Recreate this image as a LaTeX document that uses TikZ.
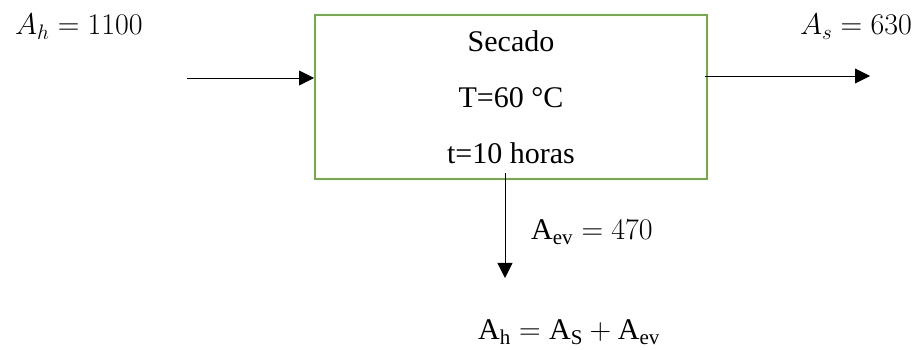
\RequirePackage{fix-cm}
\documentclass[tikz,border=0pt]{standalone}
\usepackage{fontspec}
\setmainfont{Liberation Serif}
\usepackage{xcolor}
\definecolor{boxGreen}{HTML}{70AD47}
\usetikzlibrary{
    arrows.meta,
    positioning,
    calc
}
\tikzset{
    % Base style for all texts
    modern base/.style={
        font=\fontsize{30}{36}\selectfont,
        text=black,
        inner sep=0pt,
    },
    % Process box - green frame
    process/.style={
        modern base,
        font=\fontsize{30}{56}\selectfont,
        rectangle,
        align=center,
        draw=boxGreen,
        line width=2pt,
        minimum width=392pt,
        minimum height=164pt,
    },
    % Arrow style - thin line, filled head
    arrow/.style={
        -{Triangle[length=15pt, width=15pt]},
        line width=0.8pt,
        draw=black,
    },
    % Flow labels
    edge label/.style={
        modern base,
        anchor=center,
    },
}

\begin{document}
\begin{tikzpicture}[x=1pt, y=1pt]
    \useasboundingbox (0,0) rectangle (921,350);

    \node (secado) [process] at (511,253) {Secado\\T=60 °C\\t=10 horas};

    \coordinate (in) at (187,272);
    \coordinate (out) at (870,274);
    \coordinate (ev) at (505,72);

    \node (ah) [edge label] at (79,323) {$A_h = 1100$};
    \node (as) [edge label] at (856,323) {$A_s = 630$};
    \node (aev) [edge label] at (592,118) {$\mathrm{A}_{\mathrm{ev}} = 470$};
    \node (balance) [edge label] at (569,18) {$\mathrm{A}_{\mathrm{h}} = \mathrm{A}_{\mathrm{S}} + \mathrm{A}_{\mathrm{ev}}$};

    \draw [arrow] (in) -- (in -| secado.west);
    \draw [arrow] ([xshift=-3pt]out -| secado.east) -- (out);
    \draw [arrow] ([yshift=7pt]secado.south -| ev) -- (ev);
\end{tikzpicture}
\end{document}
